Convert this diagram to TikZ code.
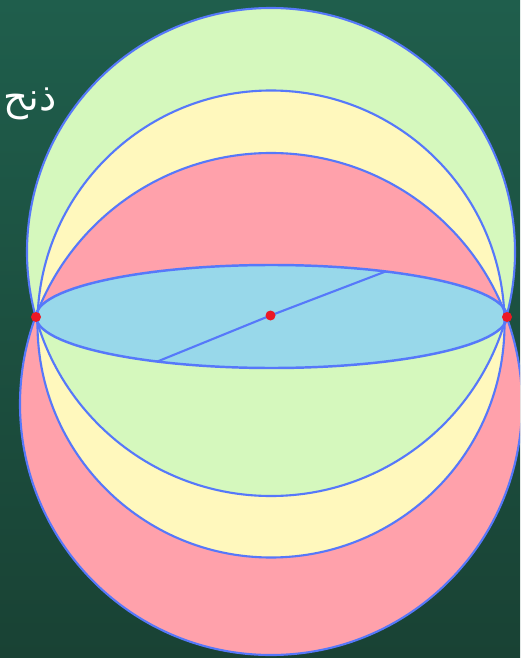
\documentclass[tikz,border=0pt]{standalone}
\usepackage{fontspec}
\newfontfamily\arabicfont[Script=Arabic]{DejaVu Sans}
\TeXXeTstate=1
\definecolor{boardtop}{RGB}{31,94,76}
\definecolor{boardbottom}{RGB}{25,66,52}
\definecolor{capgreen}{RGB}{213,248,189}
\definecolor{capyellow}{RGB}{255,248,189}
\definecolor{cappink}{RGB}{255,161,171}
\definecolor{discblue}{RGB}{152,216,234}
\definecolor{rimblue}{RGB}{86,120,250}
\definecolor{pointred}{RGB}{236,24,36}
\tikzset{
  sphere rim/.style={draw=rimblue,line width=1.2pt},
  sphere disc/.style={draw=rimblue,line width=1.4pt,fill=discblue},
  sphere point/.style={fill=pointred},
  sphere note/.style={text=white,inner sep=0pt,font=\arabicfont\fontsize{22}{26}\selectfont}
}

\begin{document}
\begin{tikzpicture}[x=0.02cm,y=-0.02cm]
  \shade[top color=boardtop,bottom color=boardbottom] (0,0) rectangle (520,658);
  \useasboundingbox (0,0) rectangle (520,658);
  \clip (0,0) rectangle (520,658);
  \coordinate (L) at (36,317);
  \coordinate (R) at (507,317);
  \coordinate (O) at (270.5,315.5);
  \coordinate (A) at ({271.5+235.5*cos(-61)},{316.5+51.5*sin(-61)});
  \coordinate (B) at ({271.5+235.5*cos(119)},{316.5+51.5*sin(119)});
  % upper caps
  \begin{scope}
    \clip (0,0) rectangle (520,317);
    \fill[capgreen] (271,252) circle (244);
    \fill[capyellow] (271,324) circle (233.5);
    \fill[cappink] (271,404) circle (251);
  \end{scope}
  % lower caps
  \begin{scope}
    \clip (0,317) rectangle (520,658);
    \fill[cappink] (271,404) circle (251);
    \fill[capyellow] (271,324) circle (233.5);
    \fill[capgreen] (271,252) circle (244);
  \end{scope}
  \draw[sphere disc] (271.5,316.5) ellipse (235.5 and 51.5);
  \draw[sphere rim] (271,252) circle (244);
  \draw[sphere rim] (271,324) circle (233.5);
  \draw[sphere rim] (271,404) circle (251);
  \draw[sphere rim] (A) -- (O) -- (B);
  \foreach \p in {L,R,O}
    \fill[sphere point] (\p) circle (5);
  \node[sphere note,anchor=west] (label) at (3,104) {\beginR ذنح\endR};
\end{tikzpicture}
\end{document}
